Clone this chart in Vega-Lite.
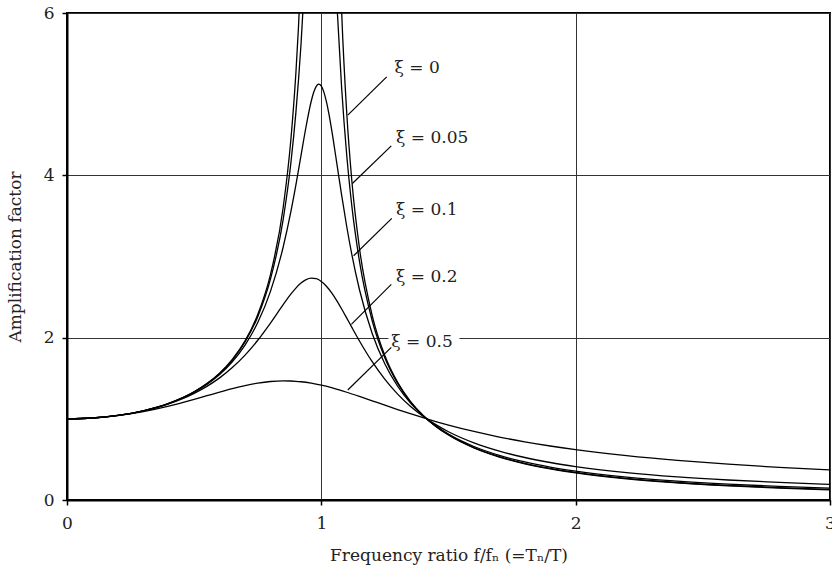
{
  "$schema": "https://vega.github.io/schema/vega-lite/v6.json",
  "width": 763,
  "height": 487,
  "autosize": {"type": "none"},
  "padding": {"left": 67, "top": 13, "right": 2, "bottom": 68},
  "background": "white",
  "config": {
    "font": "DejaVu Serif",
    "view": {"stroke": "black", "strokeWidth": 2},
    "axis": {
      "grid": true,
      "gridColor": "#333",
      "gridWidth": 1,
      "domainColor": "black",
      "domainWidth": 2,
      "tickColor": "black",
      "tickSize": 5,
      "tickWidth": 1.5,
      "labelFont": "DejaVu Serif",
      "labelFontSize": 17,
      "labelColor": "#222",
      "titleFont": "DejaVu Serif",
      "titleFontSize": 17,
      "titleFontWeight": "normal",
      "titleColor": "#222",
      "labelFlush": false
    }
  },
  "datasets": {
    "curves": [
      {"s":"0","g":"a","x":0,"y":1},{"s":"0","g":"a","x":0.1,"y":1.0101},{"s":"0","g":"a","x":0.2,"y":1.0417},{"s":"0","g":"a","x":0.3,"y":1.0989},{"s":"0","g":"a","x":0.4,"y":1.1905},{"s":"0","g":"a","x":0.5,"y":1.3333},{"s":"0","g":"a","x":0.55,"y":1.4337},{"s":"0","g":"a","x":0.6,"y":1.5625},{"s":"0","g":"a","x":0.65,"y":1.7316},{"s":"0","g":"a","x":0.7,"y":1.9608},{"s":"0","g":"a","x":0.75,"y":2.2857},{"s":"0","g":"a","x":0.8,"y":2.7778},{"s":"0","g":"a","x":0.85,"y":3.6036},{"s":"0","g":"a","x":0.88,"y":4.4326},{"s":"0","g":"a","x":0.9,"y":5.2632},{"s":"0","g":"a","x":0.91,"y":5.8173},{"s":"0","g":"a","x":0.92,"y":6.5104},
      {"s":"0","g":"b","x":1.06,"y":8.0906},{"s":"0","g":"b","x":1.08,"y":6.0096},{"s":"0","g":"b","x":1.1,"y":4.7619},{"s":"0","g":"b","x":1.12,"y":3.9308},{"s":"0","g":"b","x":1.15,"y":3.1008},{"s":"0","g":"b","x":1.2,"y":2.2727},{"s":"0","g":"b","x":1.25,"y":1.7778},{"s":"0","g":"b","x":1.3,"y":1.4493},{"s":"0","g":"b","x":1.35,"y":1.2158},{"s":"0","g":"b","x":1.4,"y":1.0417},{"s":"0","g":"b","x":1.45,"y":0.907},{"s":"0","g":"b","x":1.5,"y":0.8},{"s":"0","g":"b","x":1.6,"y":0.641},{"s":"0","g":"b","x":1.7,"y":0.5291},{"s":"0","g":"b","x":1.8,"y":0.4464},{"s":"0","g":"b","x":1.9,"y":0.3831},{"s":"0","g":"b","x":2.0,"y":0.3333},{"s":"0","g":"b","x":2.2,"y":0.2604},{"s":"0","g":"b","x":2.4,"y":0.2101},{"s":"0","g":"b","x":2.6,"y":0.1736},{"s":"0","g":"b","x":2.8,"y":0.1462},{"s":"0","g":"b","x":3.0,"y":0.125},
      {"s":"0.05","g":"a","x":0,"y":1},{"s":"0.05","g":"a","x":0.1,"y":1.0101},{"s":"0.05","g":"a","x":0.2,"y":1.0416},{"s":"0.05","g":"a","x":0.3,"y":1.0988},{"s":"0.05","g":"a","x":0.4,"y":1.1901},{"s":"0.05","g":"a","x":0.5,"y":1.332},{"s":"0.05","g":"a","x":0.55,"y":1.4314},{"s":"0.05","g":"a","x":0.6,"y":1.5585},{"s":"0.05","g":"a","x":0.65,"y":1.7244},{"s":"0.05","g":"a","x":0.7,"y":1.9473},{"s":"0.05","g":"a","x":0.75,"y":2.2591},{"s":"0.05","g":"a","x":0.8,"y":2.7203},{"s":"0.05","g":"a","x":0.85,"y":3.458},{"s":"0.05","g":"a","x":0.88,"y":4.1455},{"s":"0.05","g":"a","x":0.9,"y":4.7757},{"s":"0.05","g":"a","x":0.92,"y":5.6088},{"s":"0.05","g":"a","x":0.94,"y":6.7133},{"s":"0.05","g":"a","x":0.96,"y":8.1051},{"s":"0.05","g":"a","x":0.98,"y":9.5062},{"s":"0.05","g":"a","x":1.0,"y":10.05},{"s":"0.05","g":"a","x":1.02,"y":9.1623},{"s":"0.05","g":"a","x":1.04,"y":7.6056},{"s":"0.05","g":"a","x":1.06,"y":6.1759},{"s":"0.05","g":"a","x":1.08,"y":5.0702},{"s":"0.05","g":"a","x":1.1,"y":4.2437},{"s":"0.05","g":"a","x":1.12,"y":3.6201},{"s":"0.05","g":"a","x":1.15,"y":2.9399},{"s":"0.05","g":"a","x":1.2,"y":2.2084},{"s":"0.05","g":"a","x":1.25,"y":1.749},{"s":"0.05","g":"a","x":1.3,"y":1.4362},{"s":"0.05","g":"a","x":1.35,"y":1.2106},{"s":"0.05","g":"a","x":1.4,"y":1.0408},{"s":"0.05","g":"a","x":1.45,"y":0.9087},{"s":"0.05","g":"a","x":1.5,"y":0.8032},{"s":"0.05","g":"a","x":1.6,"y":0.6458},{"s":"0.05","g":"a","x":1.7,"y":0.5345},{"s":"0.05","g":"a","x":1.8,"y":0.4521},{"s":"0.05","g":"a","x":1.9,"y":0.389},{"s":"0.05","g":"a","x":2.0,"y":0.3392},{"s":"0.05","g":"a","x":2.2,"y":0.2662},{"s":"0.05","g":"a","x":2.4,"y":0.2158},{"s":"0.05","g":"a","x":2.6,"y":0.1792},{"s":"0.05","g":"a","x":2.8,"y":0.1517},{"s":"0.05","g":"a","x":3.0,"y":0.1304},
      {"s":"0.1","g":"a","x":0,"y":1},{"s":"0.1","g":"a","x":0.1,"y":1.0101},{"s":"0.1","g":"a","x":0.2,"y":1.0416},{"s":"0.1","g":"a","x":0.3,"y":1.0985},{"s":"0.1","g":"a","x":0.4,"y":1.1889},{"s":"0.1","g":"a","x":0.5,"y":1.3282},{"s":"0.1","g":"a","x":0.55,"y":1.4247},{"s":"0.1","g":"a","x":0.6,"y":1.5468},{"s":"0.1","g":"a","x":0.65,"y":1.7035},{"s":"0.1","g":"a","x":0.7,"y":1.9093},{"s":"0.1","g":"a","x":0.75,"y":2.1863},{"s":"0.1","g":"a","x":0.8,"y":2.5707},{"s":"0.1","g":"a","x":0.85,"y":3.1169},{"s":"0.1","g":"a","x":0.88,"y":3.5486},{"s":"0.1","g":"a","x":0.9,"y":3.8822},{"s":"0.1","g":"a","x":0.92,"y":4.2422},{"s":"0.1","g":"a","x":0.94,"y":4.6017},{"s":"0.1","g":"a","x":0.96,"y":4.9099},{"s":"0.1","g":"a","x":0.97,"y":5.0228},{"s":"0.1","g":"a","x":0.98,"y":5.0962},{"s":"0.1","g":"a","x":0.99,"y":5.1227},{"s":"0.1","g":"a","x":1.0,"y":5.099},{"s":"0.1","g":"a","x":1.01,"y":5.0257},{"s":"0.1","g":"a","x":1.02,"y":4.9076},{"s":"0.1","g":"a","x":1.03,"y":4.753},{"s":"0.1","g":"a","x":1.04,"y":4.5714},{"s":"0.1","g":"a","x":1.06,"y":4.1656},{"s":"0.1","g":"a","x":1.08,"y":3.7521},{"s":"0.1","g":"a","x":1.1,"y":3.3666},{"s":"0.1","g":"a","x":1.12,"y":3.0233},{"s":"0.1","g":"a","x":1.15,"y":2.5904},{"s":"0.1","g":"a","x":1.2,"y":2.0519},{"s":"0.1","g":"a","x":1.25,"y":1.6745},{"s":"0.1","g":"a","x":1.3,"y":1.4013},{"s":"0.1","g":"a","x":1.35,"y":1.1965},{"s":"0.1","g":"a","x":1.4,"y":1.0385},{"s":"0.1","g":"a","x":1.45,"y":0.9133},{"s":"0.1","g":"a","x":1.5,"y":0.8122},{"s":"0.1","g":"a","x":1.6,"y":0.6593},{"s":"0.1","g":"a","x":1.7,"y":0.55},{"s":"0.1","g":"a","x":1.8,"y":0.4685},{"s":"0.1","g":"a","x":1.9,"y":0.4056},{"s":"0.1","g":"a","x":2.0,"y":0.3559},{"s":"0.1","g":"a","x":2.2,"y":0.2827},{"s":"0.1","g":"a","x":2.4,"y":0.2319},{"s":"0.1","g":"a","x":2.6,"y":0.1949},{"s":"0.1","g":"a","x":2.8,"y":0.167},{"s":"0.1","g":"a","x":3.0,"y":0.1454},
      {"s":"0.2","g":"a","x":0,"y":1},{"s":"0.2","g":"a","x":0.1,"y":1.0101},{"s":"0.2","g":"a","x":0.2,"y":1.0414},{"s":"0.2","g":"a","x":0.3,"y":1.0973},{"s":"0.2","g":"a","x":0.4,"y":1.1843},{"s":"0.2","g":"a","x":0.5,"y":1.3138},{"s":"0.2","g":"a","x":0.55,"y":1.4},{"s":"0.2","g":"a","x":0.6,"y":1.5046},{"s":"0.2","g":"a","x":0.65,"y":1.6315},{"s":"0.2","g":"a","x":0.7,"y":1.7849},{"s":"0.2","g":"a","x":0.75,"y":1.9681},{"s":"0.2","g":"a","x":0.8,"y":2.1798},{"s":"0.2","g":"a","x":0.85,"y":2.4067},{"s":"0.2","g":"a","x":0.88,"y":2.5357},{"s":"0.2","g":"a","x":0.9,"y":2.611},{"s":"0.2","g":"a","x":0.92,"y":2.6721},{"s":"0.2","g":"a","x":0.94,"y":2.7143},{"s":"0.2","g":"a","x":0.96,"y":2.7332},{"s":"0.2","g":"a","x":0.98,"y":2.7262},{"s":"0.2","g":"a","x":1.0,"y":2.6926},{"s":"0.2","g":"a","x":1.02,"y":2.6342},{"s":"0.2","g":"a","x":1.04,"y":2.5549},{"s":"0.2","g":"a","x":1.06,"y":2.4594},{"s":"0.2","g":"a","x":1.08,"y":2.3531},{"s":"0.2","g":"a","x":1.1,"y":2.2409},{"s":"0.2","g":"a","x":1.12,"y":2.1269},{"s":"0.2","g":"a","x":1.15,"y":1.9593},{"s":"0.2","g":"a","x":1.2,"y":1.7035},{"s":"0.2","g":"a","x":1.25,"y":1.4856},{"s":"0.2","g":"a","x":1.3,"y":1.3045},{"s":"0.2","g":"a","x":1.35,"y":1.1551},{"s":"0.2","g":"a","x":1.4,"y":1.0313},{"s":"0.2","g":"a","x":1.45,"y":0.928},{"s":"0.2","g":"a","x":1.5,"y":0.8411},{"s":"0.2","g":"a","x":1.6,"y":0.7041},{"s":"0.2","g":"a","x":1.7,"y":0.6021},{"s":"0.2","g":"a","x":1.8,"y":0.5237},{"s":"0.2","g":"a","x":1.9,"y":0.462},{"s":"0.2","g":"a","x":2.0,"y":0.4125},{"s":"0.2","g":"a","x":2.2,"y":0.3381},{"s":"0.2","g":"a","x":2.4,"y":0.2855},{"s":"0.2","g":"a","x":2.6,"y":0.2465},{"s":"0.2","g":"a","x":2.8,"y":0.2166},{"s":"0.2","g":"a","x":3.0,"y":0.1931},
      {"s":"0.5","g":"a","x":0,"y":1},{"s":"0.5","g":"a","x":0.1,"y":1.01},{"s":"0.5","g":"a","x":0.2,"y":1.04},{"s":"0.5","g":"a","x":0.3,"y":1.0896},{"s":"0.5","g":"a","x":0.4,"y":1.1576},{"s":"0.5","g":"a","x":0.5,"y":1.2403},{"s":"0.5","g":"a","x":0.55,"y":1.2848},{"s":"0.5","g":"a","x":0.6,"y":1.3293},{"s":"0.5","g":"a","x":0.65,"y":1.3717},{"s":"0.5","g":"a","x":0.7,"y":1.4094},{"s":"0.5","g":"a","x":0.75,"y":1.4396},{"s":"0.5","g":"a","x":0.8,"y":1.4598},{"s":"0.5","g":"a","x":0.85,"y":1.4678},{"s":"0.5","g":"a","x":0.88,"y":1.4663},{"s":"0.5","g":"a","x":0.9,"y":1.4626},{"s":"0.5","g":"a","x":0.92,"y":1.4568},{"s":"0.5","g":"a","x":0.96,"y":1.4392},{"s":"0.5","g":"a","x":1.0,"y":1.4142},{"s":"0.5","g":"a","x":1.04,"y":1.383},{"s":"0.5","g":"a","x":1.1,"y":1.3275},{"s":"0.5","g":"a","x":1.15,"y":1.276},{"s":"0.5","g":"a","x":1.2,"y":1.2221},{"s":"0.5","g":"a","x":1.25,"y":1.1678},{"s":"0.5","g":"a","x":1.3,"y":1.1144},{"s":"0.5","g":"a","x":1.35,"y":1.0628},{"s":"0.5","g":"a","x":1.4,"y":1.0135},{"s":"0.5","g":"a","x":1.45,"y":0.967},{"s":"0.5","g":"a","x":1.5,"y":0.9233},{"s":"0.5","g":"a","x":1.6,"y":0.8443},{"s":"0.5","g":"a","x":1.7,"y":0.7759},{"s":"0.5","g":"a","x":1.8,"y":0.7166},{"s":"0.5","g":"a","x":1.9,"y":0.6651},{"s":"0.5","g":"a","x":2.0,"y":0.6202},{"s":"0.5","g":"a","x":2.2,"y":0.5461},{"s":"0.5","g":"a","x":2.4,"y":0.4877},{"s":"0.5","g":"a","x":2.6,"y":0.4408},{"s":"0.5","g":"a","x":2.8,"y":0.4023},{"s":"0.5","g":"a","x":3.0,"y":0.3701}
    ],
    "leaders": [
      {"label":"ξ = 0","x":1.257,"y":5.213,"x2":1.104,"y2":4.741},
      {"label":"ξ = 0.05","x":1.275,"y":4.363,"x2":1.122,"y2":3.9},
      {"label":"ξ = 0.1","x":1.277,"y":3.469,"x2":1.127,"y2":3.009},
      {"label":"ξ = 0.2","x":1.275,"y":2.656,"x2":1.118,"y2":2.164},
      {"label":"ξ = 0.5","x":1.275,"y":1.88,"x2":1.104,"y2":1.355}
    ],
    "labels": [
      {"label":"ξ = 0","x":1.288,"y":5.32},
      {"label":"ξ = 0.05","x":1.294,"y":4.46},
      {"label":"ξ = 0.1","x":1.294,"y":3.571},
      {"label":"ξ = 0.2","x":1.294,"y":2.753},
      {"label":"ξ = 0.5","x":1.275,"y":1.952}
    ],
    "mask": [
      {"x":1.264,"x2":1.543,"y":1.85,"y2":2.09}
    ]
  },
  "encoding": {
    "x": {
      "field": "x",
      "type": "quantitative",
      "scale": {"domain": [0, 3], "nice": false, "zero": false},
      "axis": {
        "values": [0, 1, 2, 3],
        "format": "d",
        "labelPadding": 10,
        "titlePadding": 16,
        "title": "Frequency ratio f/fₙ (=Tₙ/T)"
      }
    },
    "y": {
      "field": "y",
      "type": "quantitative",
      "scale": {"domain": [0, 6], "nice": false, "zero": false},
      "axis": {
        "values": [0, 2, 4, 6],
        "format": "d",
        "labelPadding": 8,
        "titlePadding": 19,
        "title": "Amplification factor"
      }
    }
  },
  "layer": [
    {
      "data": {"name": "mask"},
      "mark": {"type": "rect", "fill": "white", "stroke": null},
      "encoding": {
        "x2": {"field": "x2"},
        "y2": {"field": "y2"}
      }
    },
    {
      "data": {"name": "curves"},
      "mark": {"type": "line", "clip": true, "color": "black", "strokeWidth": 1.3, "interpolate": "monotone"},
      "encoding": {
        "detail": [{"field": "s"}, {"field": "g"}],
        "order": {"field": "x", "type": "quantitative"}
      }
    },
    {
      "data": {"name": "leaders"},
      "mark": {"type": "rule", "color": "black", "strokeWidth": 1.2},
      "encoding": {
        "x2": {"field": "x2"},
        "y2": {"field": "y2"}
      }
    },
    {
      "data": {"name": "labels"},
      "mark": {"type": "text", "align": "left", "baseline": "middle", "font": "DejaVu Serif", "fontSize": 17, "color": "#222"},
      "encoding": {
        "text": {"field": "label"}
      }
    }
  ]
}
